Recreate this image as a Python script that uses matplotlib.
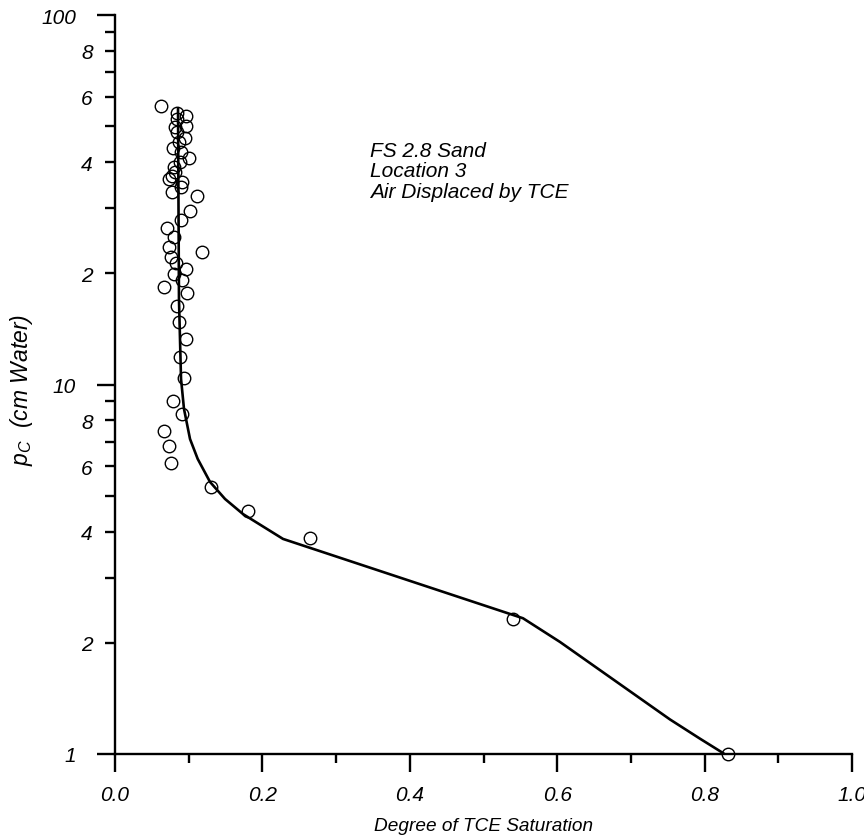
import matplotlib
matplotlib.use("Agg")
import matplotlib.pyplot as plt
from matplotlib.ticker import FixedLocator, NullFormatter, FixedFormatter

plt.rcParams['font.family'] = ['Liberation Sans', 'DejaVu Sans']
plt.rcParams['mathtext.fontset'] = 'custom'
plt.rcParams['mathtext.it'] = 'Liberation Sans:italic'
plt.rcParams['mathtext.rm'] = 'Liberation Sans:italic'

# Measured data (degree of TCE saturation, capillary pressure in cm water)
sat_obs = [0.062, 0.0845, 0.0959, 0.0845, 0.0814, 0.0963, 0.0845, 0.095, 0.0868,
           0.0783, 0.090, 0.100, 0.0882, 0.080, 0.0818, 0.0769, 0.0729, 0.0913,
           0.0896, 0.0777, 0.1109, 0.1014, 0.090, 0.071, 0.080, 0.0737, 0.118,
           0.076, 0.0828, 0.0959, 0.080, 0.0909, 0.066, 0.0973, 0.0845, 0.0864,
           0.0959, 0.0882, 0.094, 0.0783, 0.0905, 0.0669, 0.0737, 0.0756,
           0.1296, 0.180, 0.2646, 0.5396, 0.832]
pc_obs = [56.8, 54.2, 53.2, 52.3, 49.9, 50.2, 48.3, 46.6, 45.2,
          43.7, 42.7, 41.0, 39.9, 38.7, 37.5, 36.7, 36.1, 35.3,
          34.2, 33.1, 32.3, 29.4, 27.9, 26.5, 25.0, 23.6, 22.8,
          22.1, 21.3, 20.5, 19.9, 19.2, 18.4, 17.7, 16.3, 14.8,
          13.3, 11.9, 10.4, 9.02, 8.31, 7.50, 6.83, 6.12,
          5.27, 4.56, 3.84, 2.32, 1.0]

# Fitted curve
sat_fit = [0.0855, 0.0868, 0.0896, 0.0936, 0.1018, 0.1122, 0.1289, 0.1493,
           0.1737, 0.228, 0.5536, 0.6038, 0.7531, 0.7938, 0.825]
pc_fit = [55.7, 17.0, 10.35, 8.59, 7.12, 6.29, 5.45, 4.90,
          4.46, 3.82, 2.33, 2.01, 1.24, 1.10, 1.006]

x_major = [0.0, 0.2, 0.4, 0.6, 0.8, 1.0]
x_major_labels = ["0.0", "0.2", "0.4", "0.6", "0.8", "1.0"]
x_minor = [0.1, 0.3, 0.5, 0.7, 0.9]
y_major = [1, 10, 100]
y_major_labels = ["1", "10", "100"]
y_minor = [2, 3, 4, 5, 6, 7, 8, 9, 20, 30, 40, 50, 60, 70, 80, 90]
y_minor_labels = ["2", "", "4", "", "6", "", "8", "",
                  "2", "", "4", "", "6", "", "8", ""]

annotation = "FS 2.8 Sand\nLocation 3\nAir Displaced by TCE"

fig = plt.figure(figsize=(8.64, 8.37), dpi=100)
ax = fig.add_axes([115/864, 1 - 755/837, 737/864, 739/837])

ax.plot(sat_fit, pc_fit, color='black', lw=1.9, zorder=2)
ax.plot(sat_obs, pc_obs, linestyle='none', marker='o', markersize=9,
        markerfacecolor='none', markeredgecolor='black', markeredgewidth=1.0,
        clip_on=False, zorder=3)

ax.set_yscale('log')
ax.set_xlim(0, 1.0)
ax.set_ylim(1, 100)

ax.spines['top'].set_visible(False)
ax.spines['right'].set_visible(False)
ax.spines['left'].set_linewidth(1.7)
ax.spines['bottom'].set_linewidth(1.7)

ax.xaxis.set_major_locator(FixedLocator(x_major))
ax.xaxis.set_major_formatter(FixedFormatter(x_major_labels))
ax.xaxis.set_minor_locator(FixedLocator(x_minor))
ax.xaxis.set_minor_formatter(NullFormatter())
ax.yaxis.set_major_locator(FixedLocator(y_major))
ax.yaxis.set_major_formatter(FixedFormatter(y_major_labels))
ax.yaxis.set_minor_locator(FixedLocator(y_minor))
ax.yaxis.set_minor_formatter(FixedFormatter(y_minor_labels))

ax.tick_params(axis='x', which='major', direction='out', length=13, width=1.7,
               pad=9, labelsize=15)
ax.tick_params(axis='x', which='minor', direction='out', length=6.5, width=1.7)
ax.tick_params(axis='y', which='major', direction='out', length=13, width=1.7,
               pad=15, labelsize=15)
ax.tick_params(axis='y', which='minor', direction='out', length=7, width=1.7,
               pad=9, labelsize=15)
for lbl in ax.get_xticklabels() + ax.get_yticklabels() + ax.get_yticklabels(minor=True):
    lbl.set_fontstyle('italic')

ax.set_xlabel("Degree of TCE Saturation", fontsize=13.7, fontstyle='italic', labelpad=10)
fig.text(22/864, 1 - 390/837, r"$p_C$  (cm Water)", fontsize=16.5, fontstyle='italic',
         rotation=90, ha='center', va='center')

ax.text(0.346, 0.83, annotation, transform=ax.transAxes, fontsize=15,
        fontstyle='italic', va='top', ha='left', linespacing=1.12)

fig.savefig("out.png", dpi=100)
